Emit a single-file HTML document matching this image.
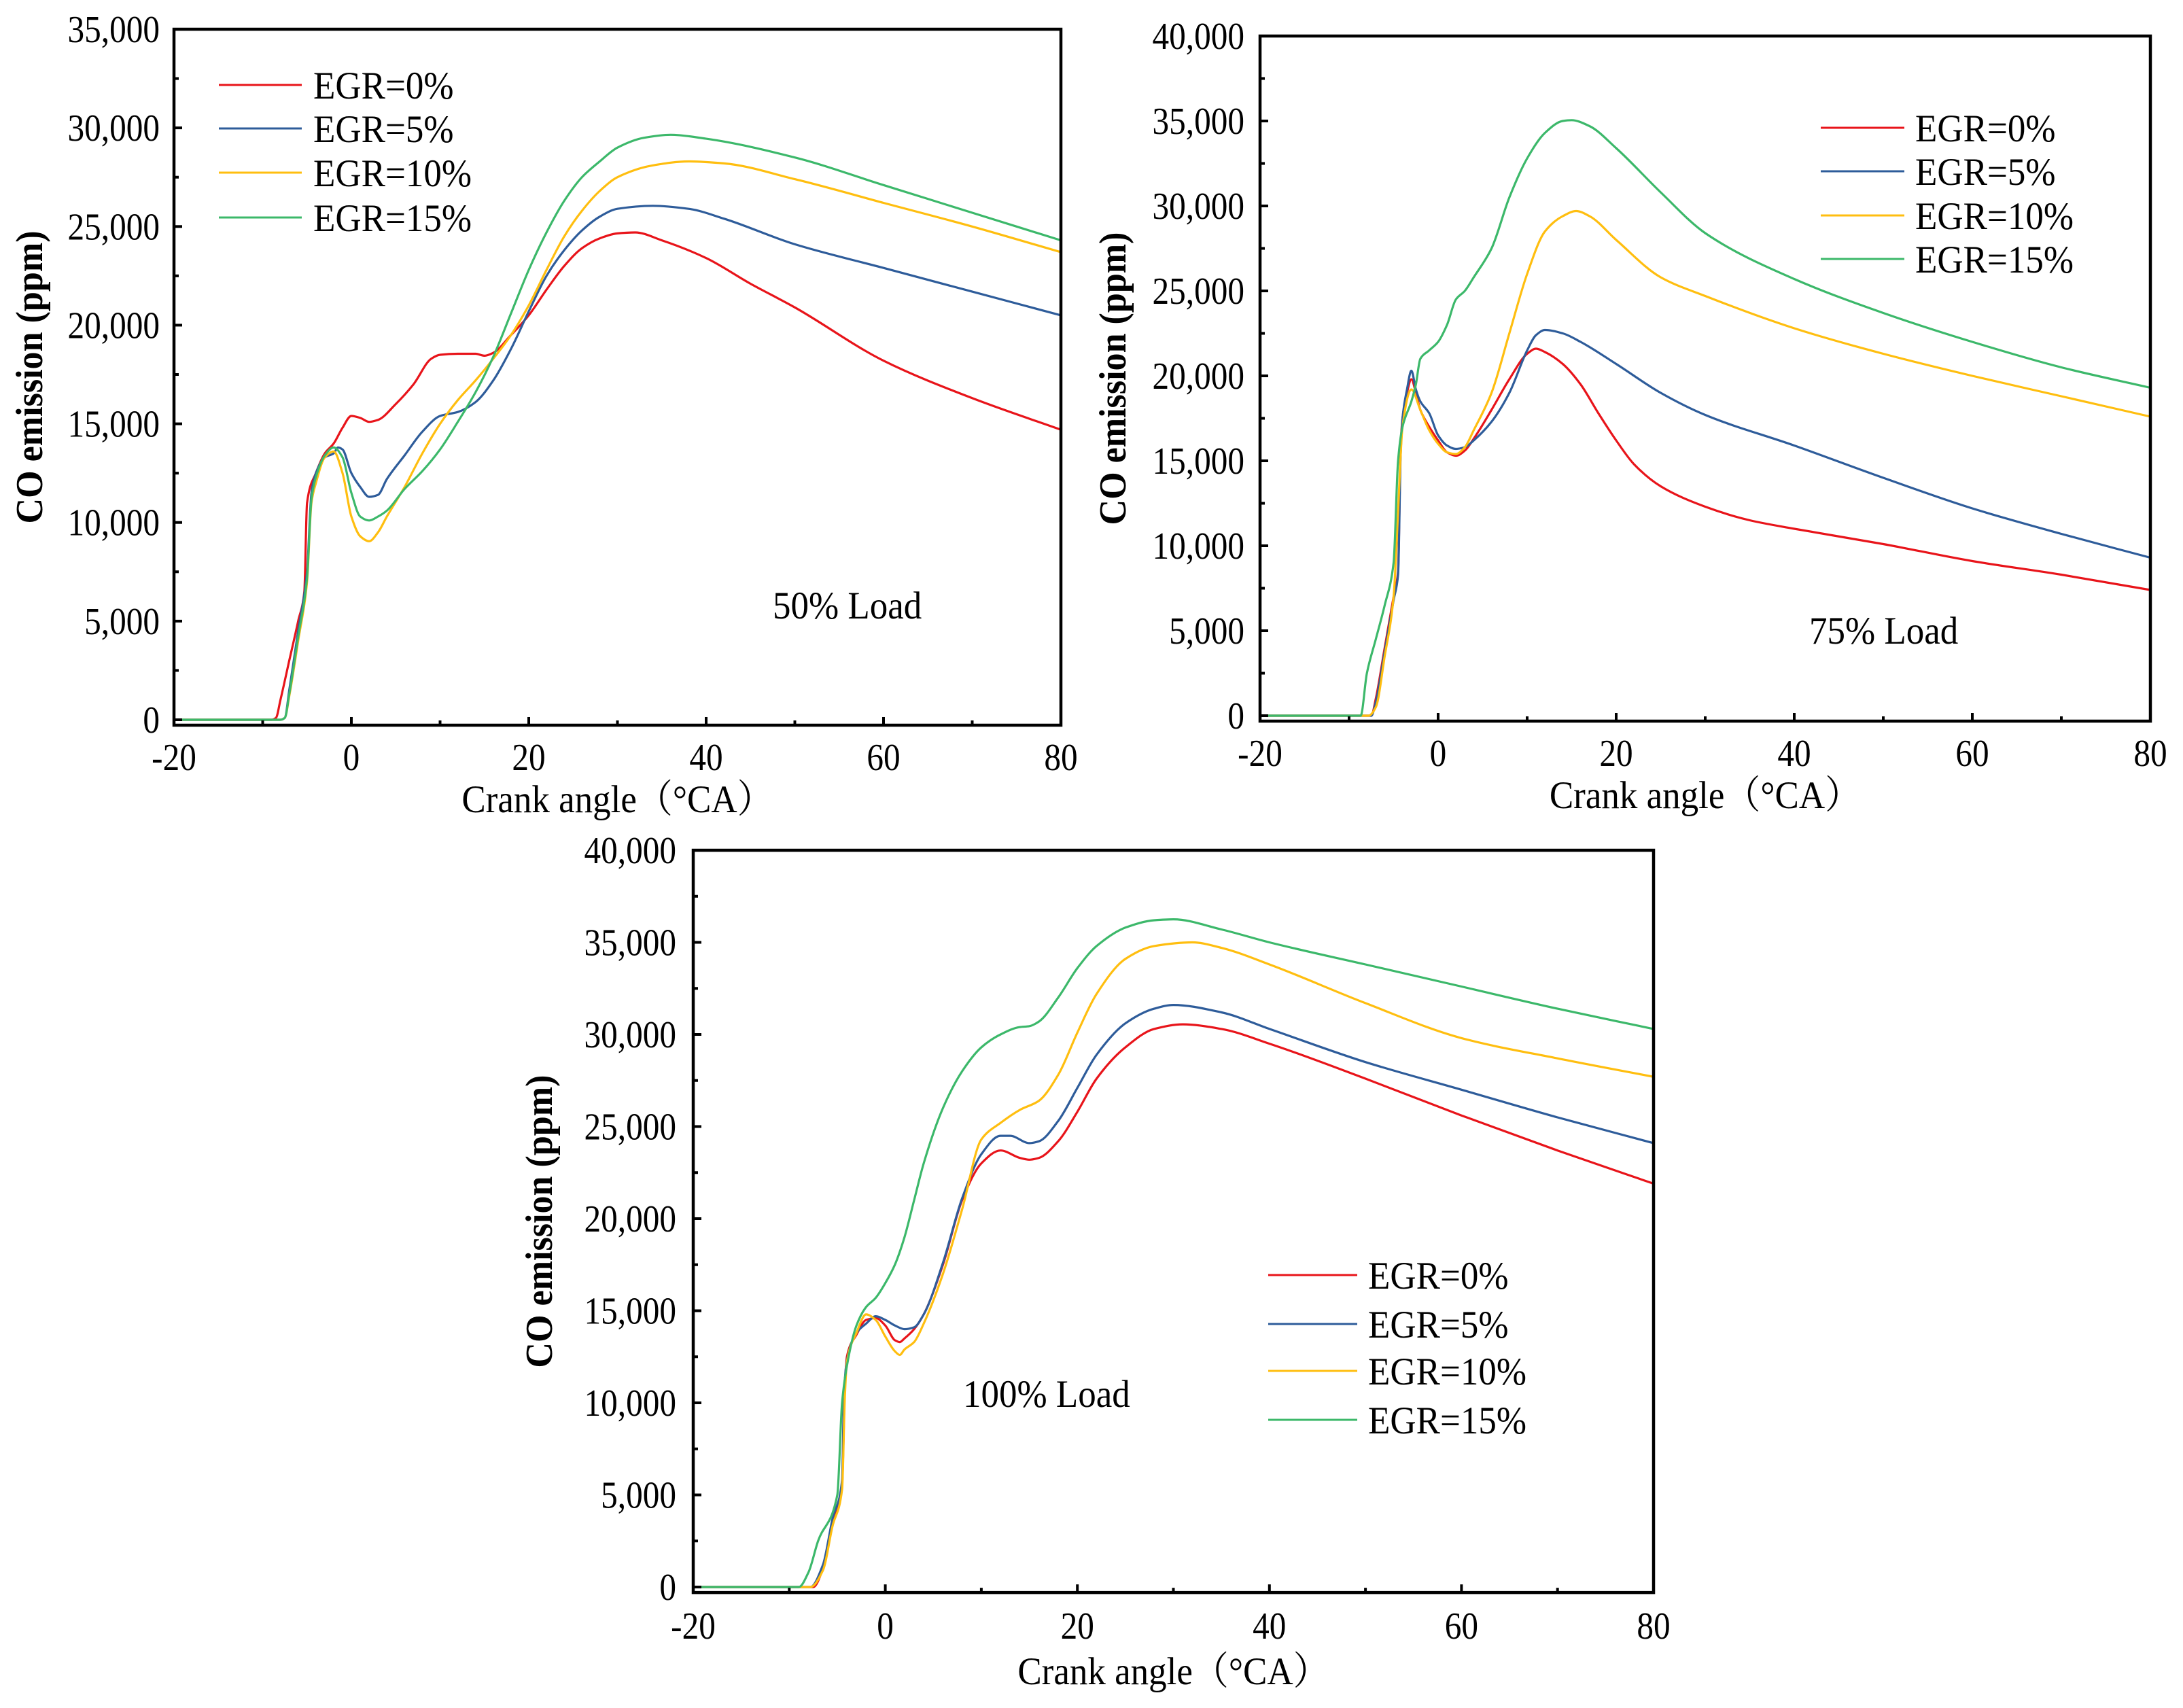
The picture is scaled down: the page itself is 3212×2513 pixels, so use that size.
<!DOCTYPE html>
<html><head><meta charset="utf-8"><style>
html,body{margin:0;padding:0;background:#fff;overflow:hidden}
svg{display:block}
text{font-family:"Liberation Serif","Noto Serif CJK SC",serif;fill:#000}
</style></head><body>
<svg id="fig" width="3212" height="2513" viewBox="0 0 3212 2513" xmlns="http://www.w3.org/2000/svg"></svg>
<script>
// ---- Data ----
const seriesLabels = ["EGR=0%","EGR=5%","EGR=10%","EGR=15%"];
const seriesColors = ["#e8141a","#2e5c9a","#ffbe0f","#3cb86a"];
const xTicks = [-20,0,20,40,60,80];

// 50% Load
const a50_0 = [-20,-9,-8.5,-8,-7,-6,-5.3,-5,-4,-3,-2,-1,0,1,2,3,5,7,9,10,12,14,15,16,18,20,22,24,26,28,30,32,35,40,45,50,60,70,80];
const v50_0 = [0,0,100,1000,3000,5000,6500,11000,12500,13500,14000,14800,15400,15300,15100,15200,16000,17000,18300,18500,18550,18550,18450,18600,19500,20500,21800,23000,23900,24400,24650,24700,24300,23400,22100,20900,18200,16300,14700];
const a50_5 = [-20,-8,-7.5,-7,-6,-5,-4.5,-4,-3,-2,-1.5,-1,0,1,2,3,4,6,8,10,12,14,16,18,20,22,24,26,28,30,34,38,42,50,60,70,80];
const v50_5 = [0,0,100,1500,4500,7500,11500,12500,13300,13500,13800,13700,12500,11800,11300,11400,12200,13400,14600,15400,15600,16100,17200,18800,20700,22500,23800,24800,25500,25900,26050,25900,25400,24100,22900,21700,20500];
const a50_10 = [-20,-8,-7.5,-7,-6,-5,-4.5,-4,-3,-2,-1,0,1,2,3,4,6,8,10,12,14,16,18,20,22,24,26,28,30,34,38,42,50,60,70,80];
const v50_10 = [0,0,100,1200,4000,7000,11000,12000,13300,13600,12500,10300,9300,9050,9500,10300,11800,13500,15000,16200,17200,18300,19500,21000,22800,24500,25800,26800,27500,28100,28300,28200,27400,26200,25000,23700];
const a50_15 = [-20,-8,-7.5,-7,-6,-5,-4.5,-4,-3,-2,-1,0,1,2,3,4,6,8,10,12,14,16,18,20,22,24,26,28,30,33,36,40,50,60,70,80];
const v50_15 = [0,0,100,1300,4200,7200,11200,12300,13400,13800,13300,11500,10300,10100,10300,10600,11700,12600,13700,15100,16600,18400,20600,22800,24700,26300,27500,28300,29000,29500,29650,29450,28500,27100,25700,24300];

// 75% Load
const a75_0 = [-20,-7.5,-7,-6,-5,-4.5,-4.2,-4,-3.5,-3,-2.5,-2,-1,0,1,2,3,4,6,8,10,11,12,14,16,18,20,22,25,30,35,40,50,60,70,80];
const v75_0 = [0,0,1000,4000,7000,8500,16000,17500,19000,19800,19000,18000,17000,16200,15500,15300,15600,16300,18000,19800,21300,21600,21400,20700,19500,17800,16200,14800,13500,12300,11500,11000,10100,9100,8300,7400];
const a75_5 = [-20,-7.5,-7,-6,-5,-4.5,-4.2,-4,-3.5,-3,-2.5,-2,-1,0,1,2,3,4,6,8,10,11,12,14,16,20,25,30,40,50,60,70,80];
const v75_5 = [0,0,800,3800,6800,8300,15500,17500,19200,20300,19200,18500,17800,16500,15900,15700,15800,16200,17300,19000,21500,22400,22700,22500,22000,20700,19000,17700,15900,14000,12200,10700,9300];
const a75_10 = [-20,-7.8,-7,-6,-5,-4.5,-4,-3,-2,-1,0,1,2,3,4,6,8,10,12,14,15.5,17,20,25,30,40,50,60,70,80];
const v75_10 = [0,0,500,3500,7000,12000,17000,19200,18000,16800,16000,15500,15400,15800,16800,19000,22500,26000,28500,29400,29700,29400,28000,25800,24700,22800,21300,20000,18800,17600];
const a75_15 = [-20,-8.7,-8,-7,-6,-5,-4.5,-4,-3,-2.5,-2,-1,0,1,2,3,4,6,8,10,12,14,15,17,20,25,30,40,50,60,70,80];
const v75_15 = [0,0,2500,4500,6500,9000,15000,17000,18500,19500,21000,21500,22000,23000,24500,25000,25800,27500,30500,32800,34300,35000,35050,34700,33400,30800,28400,25700,23700,22000,20500,19300];

// 100% Load
const a100_0 = [-20,-7.5,-6.5,-5.5,-4.5,-4.2,-4,-3,-2,-1,0,1,1.5,2,3,4,6,8,10,12,14,15,16,18,20,22,25,28,31,35,40,50,60,70,80];
const v100_0 = [0,0,1000,3500,5500,11000,12500,13700,14500,14600,14200,13400,13300,13500,14000,14800,17500,21000,23000,23700,23300,23200,23300,24200,25800,27600,29300,30300,30550,30300,29500,27600,25600,23700,21900];
const a100_5 = [-20,-7.8,-6.5,-5.5,-4.5,-4.3,-4,-3,-2,-1,0,1,2,3,4,6,8,10,12,13,15,16,18,20,22,25,28,30,35,40,50,60,70,80];
const v100_5 = [0,0,1200,3700,5800,10500,12300,13800,14300,14700,14500,14200,14000,14100,14800,17600,21100,23500,24500,24500,24100,24200,25300,27100,28900,30600,31400,31600,31200,30300,28500,27000,25500,24100];
const a100_10 = [-20,-7.8,-6.5,-5.5,-4.5,-4.2,-4,-3,-2,-1,0,1,1.5,2,3,4,6,8,10,12,14,16,18,20,22,25,28,32,35,40,50,60,70,80];
const v100_10 = [0,0,900,3300,5300,10500,12200,13800,14800,14500,13600,12800,12600,12900,13300,14300,17000,20500,24300,25200,25900,26400,27800,30100,32200,34100,34800,35000,34700,33800,31700,29800,28700,27700];
const a100_15 = [-20,-9,-8,-7,-5,-4.5,-4,-3,-2,-1,0,1,2,3,4,6,8,10,12,14,15,16,18,20,22,25,28,30,35,40,50,60,70,80];
const v100_15 = [0,0,800,2500,5000,10000,12000,14200,15200,15700,16500,17500,19000,21000,23000,26000,28000,29300,30000,30400,30450,30700,32000,33600,34800,35800,36200,36250,35700,35000,33800,32600,31400,30300];

// ---- Drawing ----
const NS = "http://www.w3.org/2000/svg";
const svg = document.getElementById("fig");
function mk(tag, attrs, parent){
  const e = document.createElementNS(NS, tag);
  for (const k in attrs) e.setAttribute(k, attrs[k]);
  (parent||svg).appendChild(e);
  return e;
}
function txt(parent, x, y, s, size, anchor, weight, rot, sx){
  const t = mk("text", {"font-size":size, "text-anchor":anchor||"start", "font-weight":weight||"normal",
    transform:"translate("+x+","+y+")"+(rot?" rotate("+rot+")":"")+" scale("+(sx||0.9)+",1)"}, parent);
  t.textContent = s;
  return t;
}
// monotone cubic (Fritsch-Carlson) path
function monoPath(P){
  const n = P.length, dx = [], s = [], m = [];
  for (let i = 0; i < n-1; i++){ dx[i] = P[i+1][0]-P[i][0]; s[i] = (P[i+1][1]-P[i][1])/dx[i]; }
  m[0] = s[0]; m[n-1] = s[n-2];
  for (let i = 1; i < n-1; i++){
    if (s[i-1]*s[i] <= 0) m[i] = 0;
    else { const w1 = 2*dx[i]+dx[i-1], w2 = dx[i]+2*dx[i-1]; m[i] = (w1+w2)/(w1/s[i-1]+w2/s[i]); }
  }
  let d = "M" + P[0][0].toFixed(1) + "," + P[0][1].toFixed(1);
  for (let i = 0; i < n-1; i++){
    const h = dx[i]/3;
    d += " C" + (P[i][0]+h).toFixed(1)+","+(P[i][1]+m[i]*h).toFixed(1)+" "+(P[i+1][0]-h).toFixed(1)+","+(P[i+1][1]-m[i+1]*h).toFixed(1)+" "+P[i+1][0].toFixed(1)+","+P[i+1][1].toFixed(1);
  }
  return d;
}

const charts = [
  {id:"50", L:256, R:1561, T:43, B0:1059, ymax:35000, ymin:-275, yStep:5000,
   series:[[a50_0,v50_0],[a50_5,v50_5],[a50_10,v50_10],[a50_15,v50_15]],
   ylabX:235, xlabY:1133, titleY:1195, ytX:62,
   legX1:322, legX2:444, legTx:461, legY:[125,189,254,320],
   load:"50% Load", loadX:1137, loadY:910},
  {id:"75", L:1854, R:3164, T:53, B0:1053, ymax:40000, ymin:-320, yStep:5000,
   series:[[a75_0,v75_0],[a75_5,v75_5],[a75_10,v75_10],[a75_15,v75_15]],
   ylabX:1831, xlabY:1127, titleY:1189, ytX:1656,
   legX1:2679, legX2:2802, legTx:2818, legY:[188,252,317,381],
   load:"75% Load", loadX:2662, loadY:947},
  {id:"100", L:1020, R:2433, T:1251, B0:2335, ymax:40000, ymin:-300, yStep:5000,
   series:[[a100_0,v100_0],[a100_5,v100_5],[a100_10,v100_10],[a100_15,v100_15]],
   ylabX:995, xlabY:2411, titleY:2478, ytX:812,
   legX1:1866, legX2:1997, legTx:2013, legY:[1876,1948,2017,2089],
   load:"100% Load", loadX:1417, loadY:2070}
];

charts.forEach(c => {
  const g = mk("g", {});
  
  
  const sy = (c.B0 - c.T) / c.ymax;
  const B = c.B0 + (-c.ymin) * sy;
  const xS = v => c.L + (v + 20) / 100 * (c.R - c.L);
  const yS = v => c.B0 - v * sy;

  c.series.forEach((s, i) => {
    const P = s[0].map((a, k) => [xS(a), yS(s[1][k])]);
    const p = mk("path", {d:monoPath(P), fill:"none", stroke:seriesColors[i], "stroke-width":3.2, "stroke-linejoin":"round"}, g);
    
    
  });

  const fr = mk("rect", {x:c.L, y:c.T, width:c.R - c.L, height:B - c.T, fill:"none", stroke:"#000", "stroke-width":4.5}, g);
  
  

  for (let v = 0; v <= c.ymax; v += c.yStep / 2) {
    const major = v % c.yStep === 0;
    const y = yS(v);
    mk("line", {x1:c.L, x2:c.L + (major ? 12 : 7), y1:y, y2:y, stroke:"#000", "stroke-width":4}, g);
    if (major) {
      const t = txt(g, c.ylabX, y + 19, v === 0 ? "0" : v.toLocaleString("en-US"), 56, "end", null, null, 0.88);
      
      
    }
  }
  for (let a = -20; a <= 80; a += 10) {
    const major = a % 20 === 0;
    const x = xS(a);
    mk("line", {x1:x, x2:x, y1:B, y2:B - (major ? 12 : 7), stroke:"#000", "stroke-width":4}, g);
  }
  xTicks.forEach(a => {
    const t = txt(g, xS(a), c.xlabY, String(a), 56, "middle", null, null, 0.88);
    
    
  });

  const xt = txt(g, (c.L + c.R) / 2, c.titleY, "Crank angle（°CA）", 57, "middle", null, null, 0.93);
  
  
  const yt = txt(g, c.ytX, (c.T + B) / 2, "CO emission (ppm)", 56, "middle", "bold", -90, 0.93);
  
  

  seriesLabels.forEach((lab, i) => {
    const y = c.legY[i];
    const ln = mk("line", {x1:c.legX1, x2:c.legX2, y1:y, y2:y, stroke:seriesColors[i], "stroke-width":3}, g);
    
    
    const t = txt(g, c.legTx, y + 20, lab, 57, "start", null, null, 0.93);
    
    
  });

  const ld = txt(g, c.loadX, c.loadY, c.load, 57, "start", null, null, 0.93);
  
  
});
</script>
</body></html>
